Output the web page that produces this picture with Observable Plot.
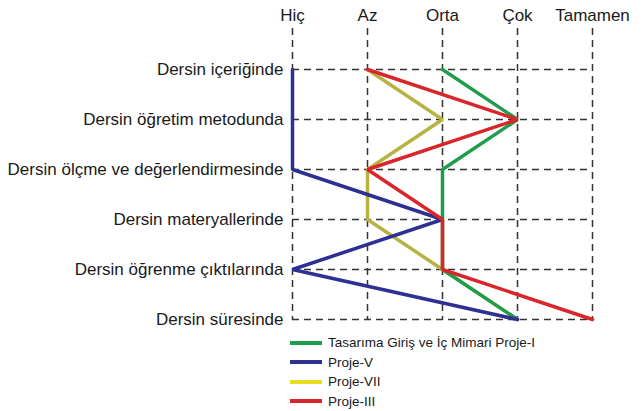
<!DOCTYPE html>
<html><head><meta charset="utf-8">
<script src="https://cdn.jsdelivr.net/npm/d3@7"></script>
<script src="https://cdn.jsdelivr.net/npm/@observablehq/plot@0.6"></script>
<style>
body{margin:0;background:#fff;font-family:"Liberation Sans",Arial,sans-serif;overflow:hidden;}
#legend{margin-left:290px;margin-top:3px;font-size:13.5px;color:#1a1a1a;}
.item{display:flex;align-items:center;height:19.5px;}
.sw{width:32px;height:4px;margin-right:6px;}
</style></head><body>
<div id="chart"></div>
<div id="legend"></div>
<script>
const categories = ["Hiç","Az","Orta","Çok","Tamamen"];
const rows = ["Dersin içeriğinde","Dersin öğretim metodunda","Dersin ölçme ve değerlendirmesinde","Dersin materyallerinde","Dersin öğrenme çıktılarında","Dersin süresinde"];
const seriesNames = ["Tasarıma Giriş ve İç Mimari Proje-I","Proje-V","Proje-VII","Proje-III"];
const seriesColors = ["#1e9e4c","#2e3192","#e8dc1e","#d9262b"];
const lineColors = ["#1e9e4c","#2e3192","#b7b342","#d9262b"];
const greenVals = ["Orta","Çok","Orta","Orta","Orta","Çok"];
const blueVals = ["Hiç","Hiç","Hiç","Orta","Hiç","Çok"];
const yellowVals = ["Az","Orta","Az","Az","Orta","Çok"];
const redVals = ["Az","Çok","Az","Orta","Orta","Tamamen"];

const drawOrder = [[seriesNames[2], yellowVals],[seriesNames[0], greenVals],[seriesNames[1], blueVals],[seriesNames[3], redVals]];
const data = [];
for (const [name, vals] of drawOrder) vals.forEach((v,i)=>data.push({series:name,row:rows[i],value:v}));

const plot = Plot.plot({
  width: 643, height: 330,
  marginLeft: 290, marginRight: 50, marginTop: 28, marginBottom: 10,
  style:{fontFamily:"Liberation Sans, Arial, sans-serif", fontSize:"17px", color:"#1a1a1a", overflow:"visible"},
  x:{type:"point", domain:categories, range:[290,593], padding:0},
  y:{type:"point", domain:rows, range:[67,320], padding:0},
  color:{domain:seriesNames, range:lineColors},
  marks:[
    Plot.ruleX(categories,{x:d=>d, stroke:"#333", strokeWidth:1.5, strokeDasharray:"7,5"}),
    Plot.ruleY(rows,{y:d=>d, x1:()=>"Hiç", x2:()=>"Tamamen", stroke:"#333", strokeWidth:1.5, strokeDasharray:"7,5"}),
    Plot.axisX({anchor:"top", tickSize:0, tickPadding:8, fontSize:17, label:null}),
    Plot.axisY({anchor:"left", tickSize:0, tickPadding:7, fontSize:17, label:null}),
    Plot.line(data,{x:"value", y:"row", z:"series", stroke:"series", strokeWidth:3.5, strokeLinejoin:"miter"})
  ]
});
document.getElementById("chart").appendChild(plot);
const lg = document.getElementById("legend");
seriesNames.forEach((n,i)=>{
  const d=document.createElement("div");d.className="item";
  d.innerHTML=`<span class="sw" style="background:${seriesColors[i]}"></span><span>${n}</span>`;
  lg.appendChild(d);
});
</script>
</body></html>
